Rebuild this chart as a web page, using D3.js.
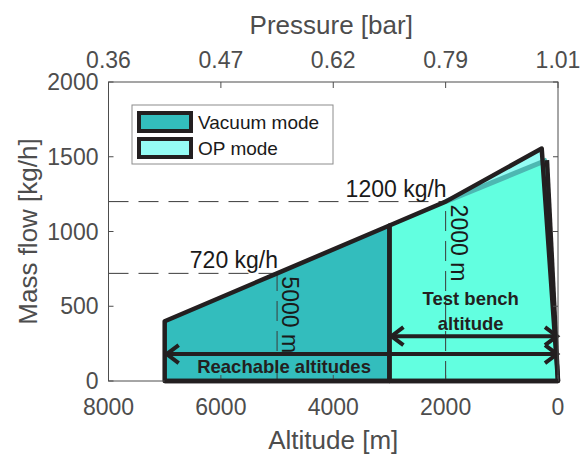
<!DOCTYPE html>
<html>
<head>
<meta charset="utf-8">
<script src="https://cdn.jsdelivr.net/npm/d3@7"></script>
<style>
  html, body { margin: 0; padding: 0; background: #fff; }
  svg { display: block; font-family: "Liberation Sans", Arial, Helvetica, sans-serif; }
</style>
</head>
<body>
<svg id="chart" width="581" height="456"></svg>
<script>
// Axis ticks
const altitudeTicks = [8000, 6000, 4000, 2000, 0];
const pressureLabels = ["0.36", "0.47", "0.62", "0.79", "1.01"];
const flowTicks = [0, 500, 1000, 1500, 2000];

// Operating envelopes: [altitude m, mass flow kg/h]
const vacuumArea = [[7000, 0], [7000, 400], [5000, 720], [3000, 1040], [3000, 0]];
const opArea = [[3000, 0], [3000, 1040], [2000, 1200], [290, 1555], [0, 0]];
const opAreaInner = [[3000, 0], [3000, 1040], [2000, 1200], [196, 1478], [0, 0]];

// Reference markers
const refAltitudes = [5000, 2000];
const refFlows = [720, 1200];
const refFlowLabels = ["720 kg/h", "1200 kg/h"];
const refAltLabels = ["5000 m", "2000 m"];

// Range arrows: [from altitude, to altitude, flow level]
const rangeArrows = [[7000, 0, 180], [3000, 0, 300]];
const rangeLabels = [["Reachable altitudes"], ["Test bench", "altitude"]];

const legendNames = ["Vacuum mode", "OP mode"];
const colVacuum = "#33BDBD", colOp = "#95FCF4", colOpInner = "#62FFE0", colEdge = "#4DB8B2";

const svg = d3.select("#chart");
const m = { left: 108.5, right: 558, top: 82, bottom: 381 };
const x = d3.scaleLinear().domain([8000, 0]).range([m.left, m.right]);
const y = d3.scaleLinear().domain([0, 2000]).range([m.bottom, m.top]);
const line = d3.line().x(d => x(d[0])).y(d => y(d[1]));
const axisCol = "#4D4D4D";

// Envelopes
svg.append("path").attr("d", line(opArea) + "Z").attr("fill", colOp);
svg.append("path").attr("d", line(opAreaInner) + "Z").attr("fill", colOpInner);
svg.append("path").attr("d", line(opAreaInner.slice(2, 4)))
  .attr("fill", "none").attr("stroke", colEdge).attr("stroke-width", 5);
svg.append("path").attr("d", line(opAreaInner.slice(3, 5)))
  .attr("fill", "none").attr("stroke", "#231F20").attr("stroke-width", 4.5);
svg.append("path").attr("d", line(vacuumArea) + "Z").attr("fill", colVacuum);

// Dashed reference lines
const refs = svg.append("g").attr("stroke", "#3a3a3a").attr("stroke-width", 1)
  .attr("stroke-dasharray", "20,10").attr("fill", "none");
refAltitudes.forEach((a, i) => {
  refs.append("line").attr("x1", x(8000)).attr("x2", x(a)).attr("y1", y(refFlows[i])).attr("y2", y(refFlows[i]));
  refs.append("line").attr("x1", x(a)).attr("x2", x(a)).attr("y1", y(0)).attr("y2", y(refFlows[i]));
});

// Envelope outlines
svg.append("path").attr("d", line(opArea) + "Z").attr("fill", "none")
  .attr("stroke", "#231F20").attr("stroke-width", 4.5).attr("stroke-linejoin", "round");
svg.append("path").attr("d", line(vacuumArea) + "Z").attr("fill", "none")
  .attr("stroke", "#231F20").attr("stroke-width", 4.5).attr("stroke-linejoin", "round");

// Range arrows
const arr = svg.append("g").attr("stroke", "#231F20").attr("stroke-width", 4).attr("fill", "none");
rangeArrows.forEach(r => {
  const x0 = x(r[0]) + 2, x1 = x(r[1]) - 1, yy = y(r[2]);
  arr.append("line").attr("x1", x0).attr("x2", x1).attr("y1", yy).attr("y2", yy);
  arr.append("path").attr("d", `M${x0 + 12},${yy - 9}L${x0},${yy}L${x0 + 12},${yy + 9}`);
  arr.append("path").attr("d", `M${x1 - 12},${yy - 9}L${x1},${yy}L${x1 - 12},${yy + 9}`);
});

// Annotations
const ann = svg.append("g").attr("fill", "#1a1a1a").attr("font-size", 23);
refAltitudes.forEach((a, i) => {
  ann.append("text").attr("x", x(a) + 1).attr("y", y(refFlows[i]) - 5)
    .attr("text-anchor", "end").text(refFlowLabels[i]);
  ann.append("text").attr("transform", `translate(${x(a) + 5},${y(refFlows[i]) + 3}) rotate(90)`)
    .text(refAltLabels[i]);
});
const bold = svg.append("g").attr("fill", "#231F20").attr("font-size", 18.5).attr("font-weight", "bold")
  .attr("text-anchor", "middle");
bold.append("text").attr("x", x(5000) + 7).attr("y", y(rangeArrows[0][2]) + 19).text(rangeLabels[0][0]);
const tbx = (x(rangeArrows[1][0]) + x(rangeArrows[1][1])) / 2 - 3;
bold.append("text").attr("x", tbx).attr("y", y(rangeArrows[1][2]) - 31).text(rangeLabels[1][0]);
bold.append("text").attr("x", tbx).attr("y", y(rangeArrows[1][2]) - 6).text(rangeLabels[1][1]);

// Axes frame
const ax = svg.append("g").attr("stroke", axisCol).attr("stroke-width", 1).attr("fill", "none");
ax.append("rect").attr("x", m.left).attr("y", m.top).attr("width", m.right - m.left).attr("height", m.bottom - m.top);
altitudeTicks.forEach(t => {
  ax.append("line").attr("x1", x(t)).attr("x2", x(t)).attr("y1", m.top).attr("y2", m.top + 6);
  ax.append("line").attr("x1", x(t)).attr("x2", x(t)).attr("y1", m.bottom).attr("y2", m.bottom - 6);
});
flowTicks.forEach(t => {
  ax.append("line").attr("x1", m.left).attr("x2", m.left + 5).attr("y1", y(t)).attr("y2", y(t));
  ax.append("line").attr("x1", m.right).attr("x2", m.right - 5).attr("y1", y(t)).attr("y2", y(t));
});
// Redraw bottom envelope edge above the frame
svg.append("path").attr("d", line([[7000, 0], [0, 0]])).attr("stroke", "#231F20").attr("stroke-width", 4.5);

// Tick labels
const tl = svg.append("g").attr("fill", axisCol).attr("font-size", 23);
altitudeTicks.forEach((t, i) => {
  tl.append("text").attr("x", x(t)).attr("y", m.bottom + 34).attr("text-anchor", "middle").text(t);
  tl.append("text").attr("x", x(t)).attr("y", m.top - 14).attr("text-anchor", "middle").text(pressureLabels[i]);
});
flowTicks.forEach(t => {
  tl.append("text").attr("x", m.left - 10).attr("y", y(t)).attr("dy", "0.35em").attr("text-anchor", "end").text(t);
});

// Axis titles
const tt = svg.append("g").attr("fill", axisCol).attr("font-size", 26).attr("text-anchor", "middle");
tt.append("text").attr("x", (m.left + m.right) / 2).attr("y", 449).text("Altitude [m]");
tt.append("text").attr("x", (m.left + m.right) / 2 - 2).attr("y", 34).text("Pressure [bar]");
tt.append("text").attr("transform", `translate(37,${(m.top + m.bottom) / 2}) rotate(-90)`).text("Mass flow [kg/h]");

// Legend
const lg = svg.append("g");
lg.append("rect").attr("x", 132).attr("y", 105).attr("width", 201).attr("height", 59)
  .attr("fill", "#fff").attr("stroke", "#8c8c8c").attr("stroke-width", 1);
[colVacuum, colOp].forEach((c, i) => {
  const yy = 113 + i * 26;
  lg.append("rect").attr("x", 139).attr("y", yy).attr("width", 52).attr("height", 18)
    .attr("fill", c).attr("stroke", "#231F20").attr("stroke-width", 4);
  lg.append("text").attr("x", 198).attr("y", yy + 16).attr("font-size", 19).attr("fill", "#1a1a1a")
    .text(legendNames[i]);
});
</script>
</body>
</html>
